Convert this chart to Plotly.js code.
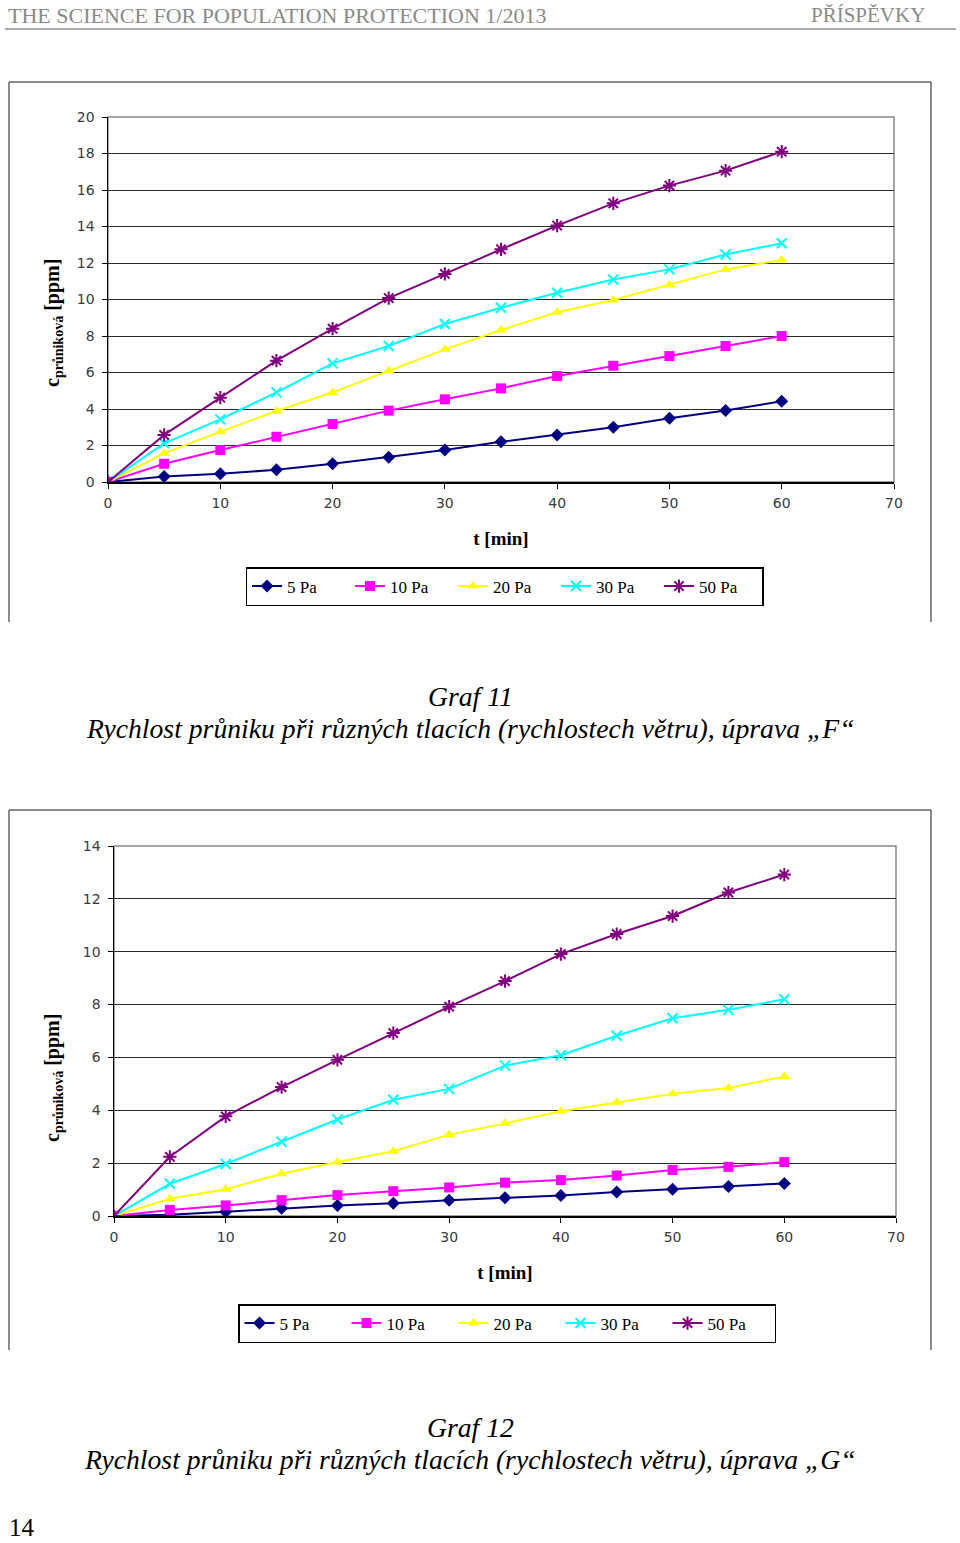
<!DOCTYPE html>
<html><head><meta charset="utf-8">
<script src="https://cdn.plot.ly/plotly-3.0.1.min.js"></script>
<style>html,body{margin:0;padding:0;background:#fff}#chart{width:960px;height:1543px}</style>
</head><body><div id="chart"></div>
<script>
// ---- data ----
const t = [0, 5, 10, 15, 20, 25, 30, 35, 40, 45, 50, 55, 60];
const seriesNames = ['5 Pa', '10 Pa', '20 Pa', '30 Pa', '50 Pa'];

// Graf 11 (úprava F)
const g11_5Pa  = [0, 0.30, 0.45, 0.67, 1.00, 1.36, 1.75, 2.20, 2.58, 3.00, 3.49, 3.92, 4.42];
const g11_10Pa = [0, 1.00, 1.75, 2.48, 3.18, 3.91, 4.53, 5.13, 5.81, 6.37, 6.90, 7.45, 8.00];
const g11_20Pa = [0, 1.57, 2.76, 3.89, 4.91, 6.10, 7.27, 8.33, 9.30, 9.97, 10.79, 11.65, 12.16];
const g11_30Pa = [0, 2.12, 3.43, 4.91, 6.50, 7.45, 8.66, 9.55, 10.37, 11.10, 11.65, 12.47, 13.08];
const g11_50Pa = [0, 2.58, 4.62, 6.65, 8.40, 10.08, 11.40, 12.75, 14.05, 15.27, 16.24, 17.06, 18.10];

// Graf 12 (úprava G)
const g12_5Pa  = [0, 0.05, 0.16, 0.29, 0.40, 0.48, 0.60, 0.69, 0.78, 0.91, 1.01, 1.12, 1.23];
const g12_10Pa = [0, 0.23, 0.40, 0.60, 0.79, 0.94, 1.08, 1.26, 1.36, 1.53, 1.74, 1.86, 2.04];
const g12_20Pa = [0, 0.65, 1.01, 1.60, 2.04, 2.45, 3.08, 3.50, 3.96, 4.30, 4.63, 4.84, 5.28];
const g12_30Pa = [0, 1.22, 1.97, 2.81, 3.65, 4.40, 4.81, 5.69, 6.08, 6.82, 7.48, 7.80, 8.20];
const g12_50Pa = [0, 2.24, 3.77, 4.88, 5.91, 6.92, 7.92, 8.89, 9.91, 10.67, 11.35, 12.24, 12.92];

const xTicks = [0, 10, 20, 30, 40, 50, 60, 70];
const yTitle = '<b>c<sub>průniková</sub> [ppm]</b>';
const xTitle = '<b>t [min]</b>';

// ---- styles ----
const W = 960, H = 1543;
const px = v => v / W;
const py = v => 1 - v / H;
const colors  = ['#000080', '#FF00FF', '#FFFF00', '#00FFFF', '#800080'];
const symbols = ['diamond', 'square', 'triangle-up', 'x-thin-open', 'asterisk-open'];
const msize   = [10, 10, 10, 10, 11];

function mkTraces(ys, xa, ya, leg) {
  return ys.map((y, i) => ({
    type: 'scatter', mode: 'lines+markers', name: seriesNames[i],
    x: t, y: y, xaxis: xa, yaxis: ya, legend: leg, showlegend: true,
    line: {color: colors[i], width: 2},
    marker: {symbol: symbols[i], size: msize[i], color: colors[i],
             line: {color: colors[i], width: (i >= 3 ? 2 : 0)}}
  }));
}

const data = [
  ...mkTraces([g11_5Pa, g11_10Pa, g11_20Pa, g11_30Pa, g11_50Pa], 'x', 'y', 'legend'),
  ...mkTraces([g12_5Pa, g12_10Pa, g12_20Pa, g12_30Pa, g12_50Pa], 'x2', 'y2', 'legend2')
];

const serif = 'Liberation Serif';
const tickFont = {family: 'DejaVu Sans', size: 14, color: '#3a3a3a'};
const titleFont = {family: serif, size: 19, color: '#000'};

function xAxis(dom, anchor) {
  return {domain: dom, anchor: anchor, range: [0, 70], tickvals: xTicks, ticktext: xTicks.map(String),
    ticks: 'outside', ticklen: 5, tickcolor: '#000', showline: true, linecolor: '#000', linewidth: 1.5,
    showgrid: false, zeroline: false, tickfont: tickFont, ticklabelstandoff: 3,
    title: {text: xTitle, font: titleFont, standoff: 21}};
}
function yAxis(dom, anchor, max) {
  return {domain: dom, anchor: anchor, range: [0, max], dtick: 2, tick0: 0,
    ticks: 'outside', ticklen: 5, tickcolor: '#000', showline: true, linecolor: '#000', linewidth: 1.5,
    showgrid: true, gridcolor: '#2a2a2a', gridwidth: 1, zeroline: false, tickfont: tickFont,
    ticklabelstandoff: 4};
}

const legendCommon = {orientation: 'h', xanchor: 'center', yanchor: 'top', bgcolor: '#fff',
  bordercolor: '#000', borderwidth: 1.5, font: {family: serif, size: 17, color: '#000'},
  entrywidthmode: 'pixels', tracegroupgap: 0, traceorder: 'normal'};

const frameLine = {color: '#666', width: 1.5};
const shapes = [
  {type: 'line', xref: 'paper', yref: 'paper', x0: px(5), x1: px(956), y0: py(29), y1: py(29), line: {color: '#aaa', width: 2}},
  {type: 'line', xref: 'paper', yref: 'paper', x0: px(9), x1: px(931), y0: py(82), y1: py(82), line: frameLine},
  {type: 'line', xref: 'paper', yref: 'paper', x0: px(9), x1: px(9), y0: py(82), y1: py(622), line: frameLine},
  {type: 'line', xref: 'paper', yref: 'paper', x0: px(931), x1: px(931), y0: py(82), y1: py(622), line: frameLine},
  {type: 'line', xref: 'paper', yref: 'paper', x0: px(9), x1: px(931), y0: py(810), y1: py(810), line: frameLine},
  {type: 'line', xref: 'paper', yref: 'paper', x0: px(9), x1: px(9), y0: py(810), y1: py(1350), line: frameLine},
  {type: 'line', xref: 'paper', yref: 'paper', x0: px(931), x1: px(931), y0: py(810), y1: py(1350), line: frameLine},
  {type: 'rect', xref: 'x domain', yref: 'y domain', x0: 0, x1: 1, y0: 0, y1: 1, line: {color: '#888', width: 1.5}, layer: 'below'},
  {type: 'rect', xref: 'x2 domain', yref: 'y2 domain', x0: 0, x1: 1, y0: 0, y1: 1, line: {color: '#888', width: 1.5}, layer: 'below'}
];

const capFont = {family: serif, size: 27.7, color: '#000'};
const annotations = [
  {text: 'THE SCIENCE FOR POPULATION PROTECTION 1/2013', xref: 'paper', yref: 'paper', x: px(6), y: py(15),
   xanchor: 'left', yanchor: 'middle', showarrow: false, font: {family: serif, size: 22, color: '#8a8a8a'}},
  {text: 'PŘÍSPĚVKY', xref: 'paper', yref: 'paper', x: px(927), y: py(15),
   xanchor: 'right', yanchor: 'middle', showarrow: false, font: {family: serif, size: 21, color: '#8a8a8a'}},
  // y-axis titles
  {text: yTitle, xref: 'paper', yref: 'paper', x: px(53), y: py(323), textangle: -90,
   xanchor: 'center', yanchor: 'middle', showarrow: false, font: {family: serif, size: 20, color: '#000'}},
  {text: yTitle, xref: 'paper', yref: 'paper', x: px(53), y: py(1078), textangle: -90,
   xanchor: 'center', yanchor: 'middle', showarrow: false, font: {family: serif, size: 20, color: '#000'}},
  // captions
  {text: '<i>Graf 11</i>', xref: 'paper', yref: 'paper', x: px(470), y: py(696), xanchor: 'center', yanchor: 'middle',
   showarrow: false, font: capFont},
  {text: '<i>Rychlost průniku při různých tlacích (rychlostech větru), úprava „F“</i>', xref: 'paper', yref: 'paper',
   x: px(470), y: py(728), xanchor: 'center', yanchor: 'middle', showarrow: false, font: capFont},
  {text: '<i>Graf 12</i>', xref: 'paper', yref: 'paper', x: px(470), y: py(1427), xanchor: 'center', yanchor: 'middle',
   showarrow: false, font: capFont},
  {text: '<i>Rychlost průniku při různých tlacích (rychlostech větru), úprava „G“</i>', xref: 'paper', yref: 'paper',
   x: px(470), y: py(1459), xanchor: 'center', yanchor: 'middle', showarrow: false, font: capFont},
  {text: '14', xref: 'paper', yref: 'paper', x: px(22), y: py(1527), xanchor: 'center', yanchor: 'middle',
   showarrow: false, borderpad: 0, font: {family: serif, size: 25, color: '#000'}}
];

const layout = {
  width: W, height: H, autosize: false,
  margin: {l: 0, r: 0, t: 0, b: 0, pad: 0},
  paper_bgcolor: '#fff', plot_bgcolor: '#fff',
  xaxis: xAxis([px(108), px(894)], 'y'),
  yaxis: yAxis([py(482), py(117)], 'x', 20),
  xaxis2: xAxis([px(114), px(896)], 'y2'),
  yaxis2: yAxis([py(1216), py(846)], 'x2', 14),
  legend: Object.assign({}, legendCommon, {x: px(504.5), y: py(567), entrywidth: 58}),
  legend2: Object.assign({}, legendCommon, {x: px(507), y: py(1304), entrywidth: 62}),
  shapes: shapes,
  annotations: annotations,
  hovermode: false
};

Plotly.newPlot('chart', data, layout, {staticPlot: true, displayModeBar: false});
</script>
</body></html>
